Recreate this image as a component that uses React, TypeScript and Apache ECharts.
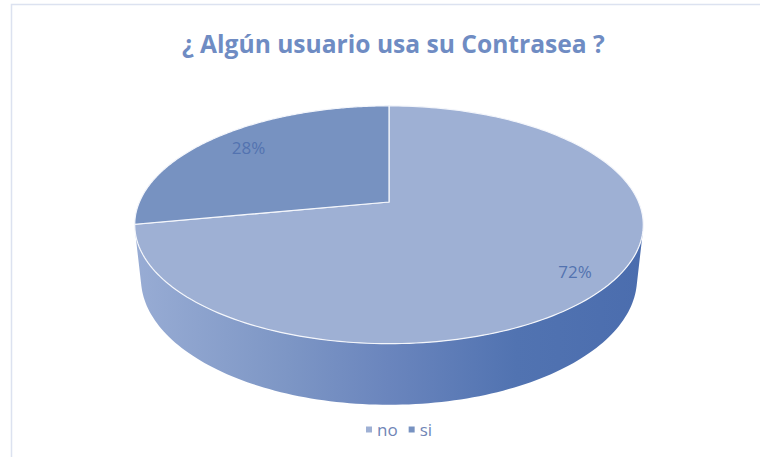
import React, { useEffect, useRef } from 'react';
import * as echarts from 'echarts';

const categories = ['no', 'si'];
const values = [72, 28];
const topColors = ['#9eb0d4', '#7792c1'];
const sideColors = [
  ['#98acd4', '#7d96c5', '#6a85bd', '#5173b1', '#4b6dae'],
  ['#7a93c2', '#6a86bd', '#5b79b5', '#4a6aa8', '#44649f'],
];
const titleText = '¿ Algún usuario usa su Contrasea ?';

export default function App() {
  const ref = useRef<HTMLDivElement>(null);
  useEffect(() => {
    const chart = echarts.init(ref.current!, null, { renderer: 'svg' });
    const total = values.reduce((a, b) => a + b, 0);
    const cx = 389, cy = 202;
    const S = 0.459, C = Math.sqrt(1 - S * S), D = 4.64, F = 1158, H = 0.245;
    const proj = (x: number, z: number, h: number) => {
      const d = D - h * S - z * C;
      return [cx + (F * x) / d, cy + ((z * S - h * C) * F) / d];
    };
    const pt = (phi: number, r: number, h: number) =>
      proj(r * Math.sin(phi), -r * Math.cos(phi), h);
    const zs = 1 / (D * C);
    const visA = Math.acos(-zs);
    const visB = 2 * Math.PI - visA;
    const xl = pt(visB, 1, 0)[0];
    const xr = pt(visA, 1, 0)[0];

    const renderItem = (params: any, api: any) => {
      const idx = api.value(0);
      const v = api.value(1);
      let before = 0;
      for (let i = 0; i < idx; i++) before += values[i];
      const a0 = (before / total) * 2 * Math.PI;
      const a1 = ((before + v) / total) * 2 * Math.PI;
      const children: any[] = [];
      // side wall
      const s0 = Math.max(a0, visA);
      const s1 = Math.min(a1, visB);
      if (s1 > s0) {
        const top: number[][] = [];
        const bot: number[][] = [];
        const n = 120;
        for (let k = 0; k <= n; k++) {
          const p = s0 + ((s1 - s0) * k) / n;
          top.push(pt(p, 1, 0));
          bot.push(pt(p, 1, -H));
        }
        const pts = top.concat(bot.reverse());
        const cs = sideColors[idx];
        children.push({
          type: 'polygon',
          z2: 1,
          shape: { points: pts },
          style: {
            fill: {
              type: 'linear', x: xl, y: 0, x2: xr, y2: 0, global: true,
              colorStops: [
                { offset: 0, color: cs[0] },
                { offset: 0.3, color: cs[1] },
                { offset: 0.5, color: cs[2] },
                { offset: 0.75, color: cs[3] },
                { offset: 1, color: cs[4] },
              ],
            },
          },
        });
      }
      // top face
      const tpts: number[][] = [proj(0, 0, 0)];
      const n2 = 200;
      for (let k = 0; k <= n2; k++) {
        const p = a0 + ((a1 - a0) * k) / n2;
        tpts.push(pt(p, 1, 0));
      }
      children.push({
        type: 'polygon',
        z2: 10,
        shape: { points: tpts },
        style: { fill: topColors[idx], stroke: '#f4f6fb', lineWidth: 1.2 },
      });
      // label
      const mid = (a0 + a1) / 2;
      const lp = pt(mid, 0.84, 0);
      children.push({
        type: 'text',
        z2: 20,
        x: lp[0] + 6,
        y: lp[1] + 1,
        style: {
          text: Math.round((v / total) * 100) + '%',
          fill: '#5373b0',
          fontSize: 17,
          fontFamily: '"Open Sans", Lato, sans-serif',
          align: 'center',
          verticalAlign: 'middle',
        },
      });
      return { type: 'group', children };
    };

    chart.setOption({
      animation: false,
      backgroundColor: '#ffffff',
      title: {
        text: titleText,
        left: 177,
        top: 26,
        textStyle: {
          color: '#6f8cc3',
          fontSize: 24.6,
          fontWeight: 'bold',
          fontFamily: '"Open Sans", Lato, sans-serif',
        },
      },
      legend: {
        data: categories,
        bottom: 14,
        left: 361,
        icon: 'rect',
        itemWidth: 6,
        itemHeight: 6,
        itemGap: 11,
        textStyle: {
          color: '#6f85b6',
          fontSize: 17,
          fontFamily: '"Open Sans", Lato, sans-serif',
        },
      },
      graphic: [
        {
          type: 'rect',
          silent: true,
          shape: { x: 11.5, y: 4.5, width: 760, height: 460 },
          style: { fill: 'none', stroke: '#dce2f0', lineWidth: 1.5 },
        },
      ],
      series: categories.map((name, i) => ({
        type: 'custom',
        name,
        coordinateSystem: 'none',
        itemStyle: { color: topColors[i] },
        renderItem,
        data: [[i, values[i]]],
      })),
    });
    return () => chart.dispose();
  }, []);
  return (
    <div
      ref={ref}
      style={{ position: 'fixed', left: 0, top: 0, width: 760, height: 457 }}
    />
  );
}
